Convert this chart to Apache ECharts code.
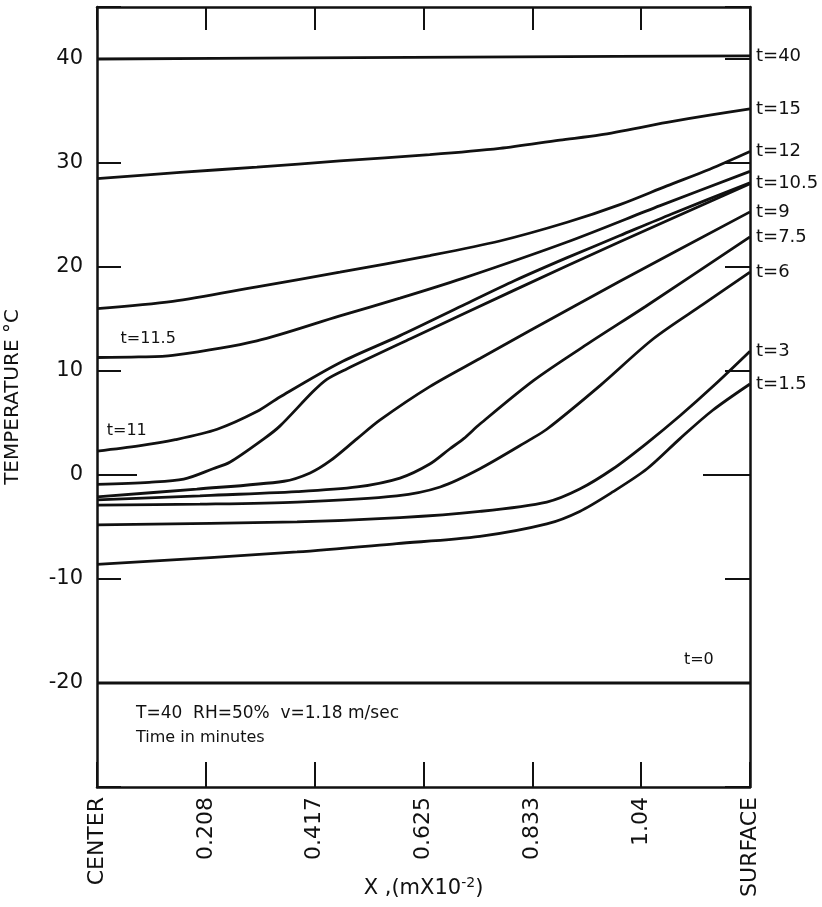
<!DOCTYPE html>
<html>
<head>
<meta charset="utf-8">
<script src="https://cdn.jsdelivr.net/npm/echarts@6/dist/echarts.min.js"></script>
<style>
  html, body { margin: 0; padding: 0; background: #fff; }
  #chart { width: 822px; height: 907px; }
</style>
</head>
<body>
<div id="chart"></div>
<script>
// Position axis: centre (0) to surface, in m x 10^-2
const xTickLabels = ['CENTER', '0.208', '0.417', '0.625', '0.833', '1.04', 'SURFACE'];
const xMax = 1.25;
const yTickLabels = [40, 30, 20, 10, 0, -10, -20];

// Temperature profiles [position, °C], one per time (minutes)
const t40   = [[0, 40.0], [0.4, 40.1], [0.8, 40.2], [1.25, 40.3]];
const t15   = [[0, 28.5], [0.159, 29.1], [0.306, 29.6], [0.465, 30.2], [0.637, 30.8], [0.771, 31.4], [0.886, 32.2], [0.963, 32.7], [1.091, 33.9], [1.173, 34.6], [1.25, 35.2]];
const t12   = [[0, 16.0], [0.145, 16.7], [0.306, 18.1], [0.465, 19.5], [0.637, 21.1], [0.771, 22.5], [0.900, 24.3], [1.001, 26.0], [1.091, 27.8], [1.173, 29.4], [1.25, 31.1]];
const t11_5 = [[0, 11.3], [0.08, 11.35], [0.145, 11.5], [0.306, 12.9], [0.465, 15.3], [0.580, 17.0], [0.700, 18.9], [0.900, 22.4], [1.078, 25.9], [1.25, 29.2]];
const t11   = [[0, 2.3], [0.08, 2.8], [0.15, 3.4], [0.23, 4.4], [0.306, 6.1], [0.35, 7.5], [0.465, 10.8], [0.58, 13.4], [0.70, 16.3], [0.80, 18.7], [0.90, 20.9], [1.00, 23.0], [1.10, 25.1], [1.25, 28.1]];
const t10_5 = [[0, -0.9], [0.10, -0.7], [0.166, -0.4], [0.222, 0.6], [0.255, 1.25], [0.32, 3.5], [0.35, 4.7], [0.413, 8.0], [0.44, 9.2], [0.478, 10.2], [0.60, 13.1], [0.80, 17.8], [1.00, 22.4], [1.25, 28.0]];
const t9    = [[0, -2.1], [0.191, -1.35], [0.358, -0.6], [0.408, 0.2], [0.446, 1.35], [0.498, 3.5], [0.542, 5.3], [0.637, 8.5], [0.733, 11.2], [0.829, 13.9], [1.0, 18.6], [1.25, 25.3]];
const t7_5  = [[0, -2.4], [0.197, -2.0], [0.383, -1.6], [0.498, -1.15], [0.580, -0.3], [0.637, 1.05], [0.675, 2.5], [0.702, 3.5], [0.733, 4.9], [0.836, 9.1], [0.942, 12.7], [1.05, 16.2], [1.25, 22.9]];
const t6    = [[0, -2.9], [0.197, -2.8], [0.383, -2.6], [0.574, -2.0], [0.657, -1.15], [0.733, 0.6], [0.829, 3.4], [0.861, 4.4], [0.963, 8.6], [1.065, 13.1], [1.16, 16.4], [1.25, 19.5]];
const t3    = [[0, -4.8], [0.383, -4.5], [0.58, -4.1], [0.733, -3.5], [0.861, -2.6], [0.924, -1.35], [0.988, 0.6], [1.051, 3.0], [1.116, 5.7], [1.183, 8.7], [1.25, 11.9]];
const t1_5  = [[0, -8.6], [0.383, -7.4], [0.574, -6.6], [0.733, -5.9], [0.861, -4.7], [0.924, -3.5], [0.988, -1.6], [1.053, 0.6], [1.116, 3.5], [1.178, 6.2], [1.25, 8.75]];
const t0    = [[0, -20], [1.25, -20]];

const INK = '#111';
const FONT = 'DejaVu Sans';

// Which curves carry a label at the surface end, and which carry one inside the plot
const curves = [
  { name: 't=40',   data: t40,   end: true },
  { name: 't=15',   data: t15,   end: true },
  { name: 't=12',   data: t12,   end: true },
  { name: 't=11.5', data: t11_5, tagAt: [0.098, 13.1] },
  { name: 't=11',   data: t11,   tagAt: [0.057, 4.2] },
  { name: 't=10.5', data: t10_5, end: true },
  { name: 't=9',    data: t9,    end: true },
  { name: 't=7.5',  data: t7_5,  end: true },
  { name: 't=6',    data: t6,    end: true },
  { name: 't=3',    data: t3,    end: true },
  { name: 't=1.5',  data: t1_5,  end: true },
  { name: 't=0',    data: t0,    tagAt: [1.152, -17.8] }
];

const series = curves.map(c => {
  const s = {
    type: 'line',
    name: c.name,
    data: c.data,
    symbol: 'none',
    smooth: 0.3,
    silent: true,
    lineStyle: { color: INK, width: 2.8 }
  };
  if (c.end) {
    s.endLabel = { show: true, formatter: '{a}', distance: 6, color: INK, fontFamily: FONT, fontSize: 18 };
  }
  if (c.tagAt) {
    s.markPoint = {
      symbol: 'circle', symbolSize: 0, silent: true,
      label: { show: true, position: 'inside', formatter: c.name, color: INK, fontFamily: FONT, fontSize: 16 },
      data: [{ coord: c.tagAt }]
    };
  }
  return s;
});

const xStep = xMax / 6;
const axisLine = { show: true, onZero: false, lineStyle: { color: INK, width: 2.5 } };

const chart = echarts.init(document.getElementById('chart'), null, { renderer: 'canvas' });
chart.setOption({
  animation: false,
  backgroundColor: '#fff',
  textStyle: { fontFamily: FONT, color: INK },
  title: {
    text: 'T=40  RH=50%  v=1.18 m/sec',
    subtext: 'Time in minutes',
    left: 131, top: 700,
    itemGap: 8,
    textStyle: { fontFamily: FONT, fontSize: 17, fontWeight: 'normal', color: INK },
    subtextStyle: { fontFamily: FONT, fontSize: 16, color: INK }
  },
  grid: { left: 97, right: 72, top: 7, bottom: 120, outerBoundsMode: 'none', containLabel: false },
  xAxis: [
    {
      type: 'value', position: 'bottom', min: 0, max: xMax, interval: xStep,
      axisLine,
      axisTick: { show: true, inside: true, length: 25, lineStyle: { color: INK, width: 2 } },
      splitLine: { show: false },
      axisLabel: {
        rotate: 90, margin: 10, color: INK, fontFamily: FONT, fontSize: 22,
        formatter: v => xTickLabels[Math.round(v / xStep)] || ''
      },
      name: 'X ,(mX10{sup|-2})',
      nameLocation: 'middle', nameGap: 89, nameMoveOverlap: false,
      nameTextStyle: {
        fontFamily: FONT, fontSize: 21, color: INK,
        rich: { sup: { fontFamily: FONT, fontSize: 14, color: INK, verticalAlign: 'top', padding: [0, 0, 12, 0] } }
      }
    },
    {
      type: 'value', position: 'top', min: 0, max: xMax, interval: xStep,
      axisLine,
      axisTick: { show: true, inside: true, length: 23, lineStyle: { color: INK, width: 2 } },
      splitLine: { show: false },
      axisLabel: { show: false }
    }
  ],
  yAxis: [
    {
      type: 'value', position: 'left', min: -30, max: 45, interval: 10,
      axisLine,
      axisTick: { show: true, inside: true, length: 24, lineStyle: { color: INK, width: 2 } },
      splitLine: { show: false },
      axisLabel: {
        margin: 14, color: INK, fontFamily: FONT, fontSize: 21,
        formatter: v => yTickLabels.includes(v) ? String(v) : ''
      },
      name: 'TEMPERATURE °C',
      nameLocation: 'middle', nameGap: 74, nameRotate: 90, nameMoveOverlap: false,
      nameTextStyle: { fontFamily: FONT, fontSize: 20, color: INK }
    },
    {
      type: 'value', position: 'right', min: -30, max: 45, interval: 10,
      axisLine,
      axisTick: { show: true, inside: true, length: 25, lineStyle: { color: INK, width: 2 } },
      splitLine: { show: false },
      axisLabel: { show: false }
    },
    {
      // longer tick marking 0 °C on the left side
      type: 'value', position: 'left', min: -30, max: 45,
      axisLine: { show: false, onZero: false },
      axisTick: { show: true, inside: true, length: 40, customValues: [0], lineStyle: { color: INK, width: 2 } },
      splitLine: { show: false },
      axisLabel: { show: false }
    },
    {
      // longer tick marking 0 °C on the right side
      type: 'value', position: 'right', min: -30, max: 45,
      axisLine: { show: false, onZero: false },
      axisTick: { show: true, inside: true, length: 47, customValues: [0], lineStyle: { color: INK, width: 2 } },
      splitLine: { show: false },
      axisLabel: { show: false }
    }
  ],
  series
});
</script>
</body>
</html>
